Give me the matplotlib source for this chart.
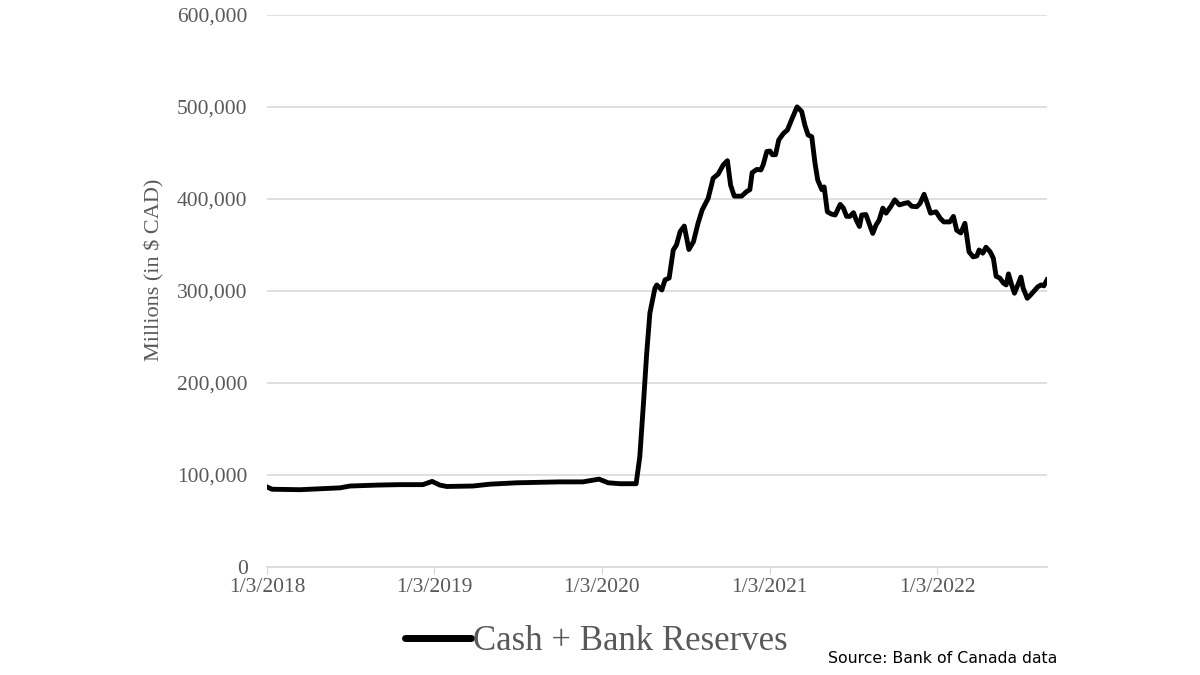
import matplotlib
matplotlib.use("Agg")
import matplotlib.pyplot as plt
import pandas as pd

# Cash + bank reserves, millions of CAD
dates = [
    "2018-01-03", "2018-01-14", "2018-02-15", "2018-03-16", "2018-04-29", "2018-06-11",
    "2018-07-03", "2018-08-31", "2018-10-20", "2018-12-09", "2018-12-29", "2019-01-15",
    "2019-01-30", "2019-03-28", "2019-05-04", "2019-07-02", "2019-08-21", "2019-10-04",
    "2019-11-23", "2019-12-28", "2020-01-17", "2020-02-12", "2020-03-18", "2020-03-26",
    "2020-04-03", "2020-04-10", "2020-04-17", "2020-04-28", "2020-05-02", "2020-05-13",
    "2020-05-20", "2020-05-29", "2020-06-07", "2020-06-14", "2020-06-22", "2020-07-01",
    "2020-07-11", "2020-07-21", "2020-07-31", "2020-08-09", "2020-08-22", "2020-09-02",
    "2020-09-13", "2020-09-24", "2020-10-03", "2020-10-10", "2020-10-18", "2020-11-03",
    "2020-11-14", "2020-11-21", "2020-11-26", "2020-12-06", "2020-12-15", "2020-12-20",
    "2020-12-28", "2021-01-04", "2021-01-09", "2021-01-16", "2021-01-23", "2021-02-02",
    "2021-02-11", "2021-02-20", "2021-03-04", "2021-03-14", "2021-03-21", "2021-03-28",
    "2021-04-05", "2021-04-12", "2021-04-18", "2021-04-27", "2021-05-02", "2021-05-09",
    "2021-05-18", "2021-05-26", "2021-06-06", "2021-06-13", "2021-06-20", "2021-06-27",
    "2021-07-05", "2021-07-11", "2021-07-18", "2021-07-23", "2021-08-01", "2021-08-08",
    "2021-08-16", "2021-08-23", "2021-08-30", "2021-09-07", "2021-09-14", "2021-09-24",
    "2021-10-03", "2021-10-13", "2021-10-23", "2021-11-01", "2021-11-09", "2021-11-20",
    "2021-11-27", "2021-12-06", "2021-12-13", "2021-12-20", "2022-01-01", "2022-01-10",
    "2022-01-18", "2022-01-31", "2022-02-08", "2022-02-15", "2022-02-24", "2022-03-05",
    "2022-03-14", "2022-03-23", "2022-03-31", "2022-04-05", "2022-04-13", "2022-04-20",
    "2022-04-29", "2022-05-06", "2022-05-12", "2022-05-20", "2022-05-28", "2022-06-03",
    "2022-06-08", "2022-06-15", "2022-06-21", "2022-06-30", "2022-07-05", "2022-07-10",
    "2022-07-19", "2022-07-26", "2022-08-03", "2022-08-11", "2022-08-18", "2022-08-24",
    "2022-08-31",
]
values = [
    87000, 84500, 84200, 84000, 85000, 86000,
    88000, 89000, 89500, 89500, 93000, 89000,
    87500, 88000, 90000, 91500, 92000, 92500,
    92500, 95500, 91500, 90500, 90500, 120000,
    178000, 232000, 276000, 303000, 306500, 301000,
    312000, 314000, 344500, 350000, 364500, 370500,
    345000, 353500, 373500, 388000, 400500, 422500,
    427000, 437000, 441500, 415000, 403000, 403000,
    408000, 410000, 428500, 432000, 431500, 437000,
    451500, 452000, 448000, 448000, 464000, 471000,
    475000, 486000, 500000, 495000, 480000, 469500,
    467500, 439000, 420500, 410000, 413000, 386000,
    383500, 382500, 394000, 390000, 381000, 381000,
    385000, 377000, 370000, 382500, 383000, 373500,
    362500, 371500, 377000, 390000, 384500, 391500,
    399000, 393500, 395000, 396000, 392000, 391500,
    395000, 405000, 395000, 384500, 386000, 379000,
    375000, 375000, 381000, 366000, 363000, 373500,
    342500, 337000, 338000, 344500, 341000, 347500,
    342500, 335500, 316000, 314000, 308500, 306500,
    318500, 306500, 297500, 308500, 315000, 303000,
    292000, 295500, 300000, 304500, 306500, 305500,
    312000,
]
x_ticks = ["2018-01-03", "2019-01-03", "2020-01-03", "2021-01-03", "2022-01-03"]
y_ticks = [0, 100000, 200000, 300000, 400000, 500000, 600000]

serif = ["Liberation Serif", "DejaVu Serif"]
grey_text = "#595959"
grid_col = "#d9d9d9"

x = pd.to_datetime(dates)

fig = plt.figure(figsize=(12, 6.75), dpi=100)
ax = fig.add_axes([0.2225, 0.16, 0.65, 0.818])

ax.plot(x, values, color="black", lw=3.5, solid_joinstyle="round",
        label="Cash + Bank Reserves")

ax.set_ylim(0, 600000)
ax.set_xlim(pd.Timestamp("2018-01-03"), pd.Timestamp("2022-08-31"))
ax.set_yticks(y_ticks)
ax.set_yticklabels([f"{v:,}" for v in y_ticks], fontfamily=serif,
                   fontsize=15.5, color=grey_text)
ax.set_xticks(pd.to_datetime(x_ticks))
ax.set_xticklabels(["1/3/2018", "1/3/2019", "1/3/2020", "1/3/2021", "1/3/2022"],
                   fontfamily=serif, fontsize=15.5, color=grey_text)
ax.tick_params(axis="y", length=0, pad=14)
ax.tick_params(axis="x", length=5, color=grid_col, pad=3)

ax.grid(axis="y", color=grid_col, lw=1.2)
ax.set_axisbelow(True)
for s in ["top", "right", "left"]:
    ax.spines[s].set_visible(False)
ax.spines["bottom"].set_color(grid_col)
ax.spines["bottom"].set_linewidth(1.2)

ax.set_ylabel("Millions (in $ CAD)", fontfamily=serif, fontsize=16,
              color=grey_text)
ax.yaxis.set_label_coords(-0.131, 0.538)

leg = fig.legend(loc="center", bbox_to_anchor=(0.497, 0.05), frameon=False,
                 prop={"family": serif, "size": 25}, handlelength=1.9,
                 handletextpad=0.05)
for t in leg.get_texts():
    t.set_color(grey_text)
for h in leg.get_lines():
    h.set_linewidth(5)
    h.set_solid_capstyle("round")

fig.text(0.69, 0.018, "Source: Bank of Canada data", fontfamily="DejaVu Sans",
         fontsize=11.3, color="black")

fig.savefig("out.png", dpi=100)
